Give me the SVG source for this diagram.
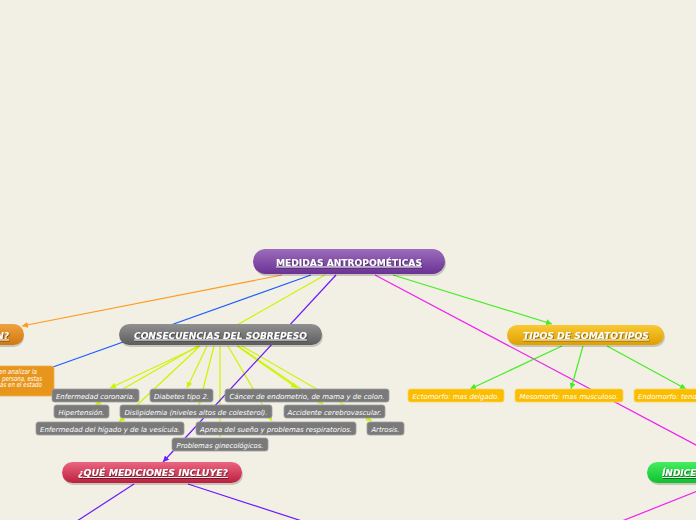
<svg xmlns="http://www.w3.org/2000/svg" width="696" height="520" viewBox="0 0 696 520">
<style>
.bg{fill:#f2efe4}
.c{fill:none;stroke-width:1.2}
.t{font-family:"DejaVu Sans",Verdana,sans-serif;font-weight:bold;font-size:9px;fill:#fff;text-decoration:underline}
.it{font-style:italic}
.s{font-family:"DejaVu Sans",Verdana,sans-serif;font-style:italic;font-size:7px;fill:#fff}
.gb{fill:#7a7a7a;stroke:#a0a0a0;stroke-width:0.8}
.yb{fill:#fbbd00;stroke:#fdd560;stroke-width:0.8}
.sh{fill:#000;opacity:0.18}
</style>
<defs>
<linearGradient id="gp" x1="0" y1="0" x2="0" y2="1"><stop offset="0" stop-color="#9c6cbc"/><stop offset="1" stop-color="#6a3294"/></linearGradient>
<linearGradient id="gg" x1="0" y1="0" x2="0" y2="1"><stop offset="0" stop-color="#919191"/><stop offset="1" stop-color="#5c5c5c"/></linearGradient>
<linearGradient id="gy" x1="0" y1="0" x2="0" y2="1"><stop offset="0" stop-color="#f9c935"/><stop offset="1" stop-color="#dfa000"/></linearGradient>
<linearGradient id="gr" x1="0" y1="0" x2="0" y2="1"><stop offset="0" stop-color="#ea6680"/><stop offset="1" stop-color="#bd1f3e"/></linearGradient>
<linearGradient id="gn" x1="0" y1="0" x2="0" y2="1"><stop offset="0" stop-color="#45ee5e"/><stop offset="1" stop-color="#0fc02e"/></linearGradient>
<linearGradient id="go" x1="0" y1="0" x2="0" y2="1"><stop offset="0" stop-color="#f0a23e"/><stop offset="1" stop-color="#cf7812"/></linearGradient>
<filter id="ts" x="-10%" y="-30%" width="120%" height="160%"><feDropShadow dx="0.6" dy="0.8" stdDeviation="0.4" flood-color="#000" flood-opacity="0.6"/></filter>
<marker id="ay" viewBox="0 0 10 10" refX="10" refY="5" markerWidth="6" markerHeight="6" orient="auto" markerUnits="userSpaceOnUse"><path d="M0,0L10,5L0,10z" fill="#ccf500"/></marker>
<marker id="ag" viewBox="0 0 10 10" refX="10" refY="5" markerWidth="6" markerHeight="6" orient="auto" markerUnits="userSpaceOnUse"><path d="M0,0L10,5L0,10z" fill="#44ee22"/></marker>
<marker id="ao" viewBox="0 0 10 10" refX="10" refY="5" markerWidth="6" markerHeight="6" orient="auto" markerUnits="userSpaceOnUse"><path d="M0,0L10,5L0,10z" fill="#ff9a1a"/></marker>
<marker id="av" viewBox="0 0 10 10" refX="10" refY="5" markerWidth="6" markerHeight="6" orient="auto" markerUnits="userSpaceOnUse"><path d="M0,0L10,5L0,10z" fill="#6a1aff"/></marker>
</defs>
<rect class="bg" x="0" y="0" width="696" height="520"/>

<g id="connectors">
<line class="c" stroke="#ff9a1a" x1="282" y1="275" x2="22" y2="326" marker-end="url(#ao)"/>
<line class="c" stroke="#1a5cff" x1="311" y1="275" x2="53" y2="367"/>
<line class="c" stroke="#ccf500" x1="325" y1="275" x2="237" y2="325"/>
<line class="c" stroke="#ee22ee" x1="375" y1="275" x2="730" y2="463"/>
<line class="c" stroke="#44ee22" x1="393" y1="275" x2="552" y2="324" marker-end="url(#ag)"/>
<line class="c" stroke="#44ee22" x1="562" y1="346" x2="470" y2="389" marker-end="url(#ag)"/>
<line class="c" stroke="#44ee22" x1="583" y1="346" x2="571" y2="389" marker-end="url(#ag)"/>
<line class="c" stroke="#44ee22" x1="607" y1="346" x2="686" y2="389" marker-end="url(#ag)"/>
<line class="c" stroke="#ccf500" x1="200" y1="346" x2="110" y2="388" marker-end="url(#ay)"/>
<line class="c" stroke="#ccf500" x1="198" y1="346" x2="95" y2="405" marker-end="url(#ay)"/>
<line class="c" stroke="#ccf500" x1="200" y1="346" x2="119" y2="422" marker-end="url(#ay)"/>
<line class="c" stroke="#ccf500" x1="207" y1="346" x2="187" y2="388" marker-end="url(#ay)"/>
<line class="c" stroke="#ccf500" x1="214" y1="346" x2="199" y2="405" marker-end="url(#ay)"/>
<line class="c" stroke="#ccf500" x1="220" y1="346" x2="220" y2="437" marker-end="url(#ay)"/>
<line class="c" stroke="#ccf500" x1="228" y1="346" x2="272" y2="421" marker-end="url(#ay)"/>
<line class="c" stroke="#ccf500" x1="237" y1="346" x2="297" y2="388" marker-end="url(#ay)"/>
<line class="c" stroke="#ccf500" x1="238" y1="346" x2="323" y2="404" marker-end="url(#ay)"/>
<line class="c" stroke="#ccf500" x1="242" y1="346" x2="372" y2="421" marker-end="url(#ay)"/>
<line class="c" stroke="#6a1aff" x1="336" y1="275" x2="163" y2="462" marker-end="url(#av)"/>
<line class="c" stroke="#6a1aff" x1="134" y1="484" x2="77" y2="521"/>
<line class="c" stroke="#6a1aff" x1="188" y1="484" x2="302" y2="521"/>
<line class="c" stroke="#ee22ee" x1="700" y1="490" x2="622" y2="521"/>
</g>

<g id="n-main">
<rect class="sh" x="254" y="251" width="192" height="25" rx="12.5"/>
<rect x="253" y="249" width="192" height="25" rx="12.5" fill="url(#gp)"/>
<text class="t" x="349" y="265.5" text-anchor="middle" textLength="146" lengthAdjust="spacingAndGlyphs" filter="url(#ts)">MEDIDAS ANTROPOMÉTICAS</text>
</g>

<g id="n-left">
<rect class="sh" x="-149" y="326" width="173" height="21" rx="10.5"/>
<rect x="-150" y="324" width="174" height="21" rx="10.5" fill="url(#go)"/>
<text class="t it" x="9" y="338.5" text-anchor="end" filter="url(#ts)">N?</text>
</g>

<g id="n-left-desc">
<rect x="-150" y="366" width="204" height="30" rx="3" fill="#e8951c" stroke="#f0b050" stroke-width="0.8"/>
<text class="s" x="-1" y="374" font-size="5.5" textLength="38" lengthAdjust="spacingAndGlyphs">en analizar la</text>
<text class="s" x="2" y="380.5" font-size="5.5" textLength="40" lengthAdjust="spacingAndGlyphs">persona, estas</text>
<text class="s" x="0" y="387" font-size="5.5" textLength="42" lengthAdjust="spacingAndGlyphs">as en el estado</text>
</g>

<g id="n-consecuencias">
<rect class="sh" x="120" y="326" width="203" height="21" rx="10.5"/>
<rect x="119" y="324" width="203" height="21" rx="10.5" fill="url(#gg)"/>
<text class="t it" x="220.5" y="338.5" text-anchor="middle" textLength="173" lengthAdjust="spacingAndGlyphs" filter="url(#ts)">CONSECUENCIAS DEL SOBREPESO</text>
</g>

<g id="n-somatotipos">
<rect class="sh" x="508" y="327" width="157" height="20" rx="10"/>
<rect x="507" y="325" width="157" height="20" rx="10" fill="url(#gy)"/>
<text class="t it" x="586" y="338.5" text-anchor="middle" textLength="126" lengthAdjust="spacingAndGlyphs" filter="url(#ts)">TIPOS DE SOMATOTIPOS</text>
</g>

<g id="n-que">
<rect class="sh" x="63" y="464" width="180" height="21" rx="10.5"/>
<rect x="62" y="462" width="180" height="21" rx="10.5" fill="url(#gr)"/>
<text class="t it" x="153" y="476" text-anchor="middle" textLength="150" lengthAdjust="spacingAndGlyphs" filter="url(#ts)">¿QUÉ MEDICIONES INCLUYE?</text>
</g>

<g id="n-indice">
<rect class="sh" x="648" y="464" width="140" height="21" rx="10.5"/>
<rect x="647" y="462" width="140" height="21" rx="10.5" fill="url(#gn)"/>
<text class="t it" x="662" y="476" filter="url(#ts)">ÍNDICE</text>
</g>

<g id="n-coronaria"><rect class="gb" x="52" y="389" width="87" height="13" rx="2.5"/><text class="s" x="95.5" y="398.5" text-anchor="middle" textLength="79" lengthAdjust="spacingAndGlyphs">Enfermedad coronaria.</text></g>
<g id="n-diabetes"><rect class="gb" x="150" y="389" width="63" height="13" rx="2.5"/><text class="s" x="181.5" y="398.5" text-anchor="middle" textLength="55" lengthAdjust="spacingAndGlyphs">Diabetes tipo 2.</text></g>
<g id="n-cancer"><rect class="gb" x="225" y="389" width="164" height="13" rx="2.5"/><text class="s" x="307" y="398.5" text-anchor="middle" textLength="155" lengthAdjust="spacingAndGlyphs">Cáncer de endometrio, de mama y de colon.</text></g>
<g id="n-hipertension"><rect class="gb" x="54" y="405" width="55" height="13" rx="2.5"/><text class="s" x="81.5" y="414.5" text-anchor="middle" textLength="46" lengthAdjust="spacingAndGlyphs">Hipertensión.</text></g>
<g id="n-dislipidemia"><rect class="gb" x="120" y="405" width="152" height="13" rx="2.5"/><text class="s" x="196" y="414.5" text-anchor="middle" textLength="143" lengthAdjust="spacingAndGlyphs">Dislipidemia (niveles altos de colesterol).</text></g>
<g id="n-accidente"><rect class="gb" x="284" y="405" width="101" height="13" rx="2.5"/><text class="s" x="334.5" y="414.5" text-anchor="middle" textLength="94" lengthAdjust="spacingAndGlyphs">Accidente cerebrovascular.</text></g>
<g id="n-higado"><rect class="gb" x="36" y="422" width="148" height="13" rx="2.5"/><text class="s" x="110" y="431.5" text-anchor="middle" textLength="140" lengthAdjust="spacingAndGlyphs">Enfermedad del hígado y de la vesícula.</text></g>
<g id="n-apnea"><rect class="gb" x="196" y="422" width="160" height="13" rx="2.5"/><text class="s" x="276" y="431.5" text-anchor="middle" textLength="152" lengthAdjust="spacingAndGlyphs">Apnea del sueño y problemas respiratorios.</text></g>
<g id="n-artrosis"><rect class="gb" x="367" y="422" width="37" height="13" rx="2.5"/><text class="s" x="385.5" y="431.5" text-anchor="middle" textLength="28" lengthAdjust="spacingAndGlyphs">Artrosis.</text></g>
<g id="n-ginecologicos"><rect class="gb" x="172" y="438" width="96" height="13" rx="2.5"/><text class="s" x="220" y="447.5" text-anchor="middle" textLength="87" lengthAdjust="spacingAndGlyphs">Problemas ginecológicos.</text></g>

<g id="n-ectomorfo"><rect class="yb" x="408" y="389" width="96" height="13" rx="2.5"/><text class="s" x="456" y="398.5" text-anchor="middle" textLength="87" lengthAdjust="spacingAndGlyphs">Ectomorfo: mas delgado.</text></g>
<g id="n-mesomorfo"><rect class="yb" x="515" y="389" width="108" height="13" rx="2.5"/><text class="s" x="569" y="398.5" text-anchor="middle" textLength="99" lengthAdjust="spacingAndGlyphs">Mesomorfo: mas musculoso.</text></g>
<g id="n-endomorfo"><rect class="yb" x="634" y="389" width="140" height="13" rx="2.5"/><text class="s" x="638" y="398.5">Endomorfo: tendencia a engordar.</text></g>
</svg>
